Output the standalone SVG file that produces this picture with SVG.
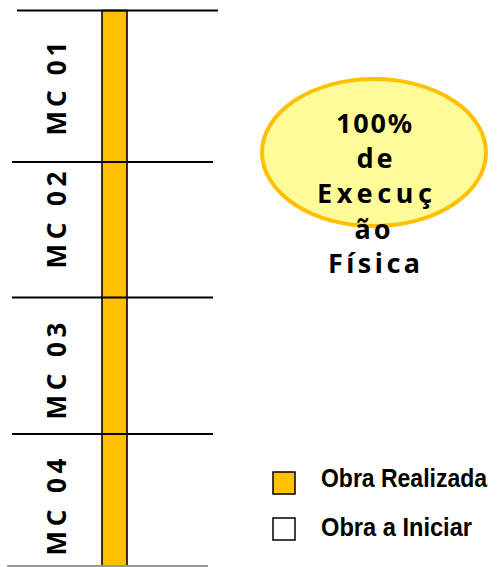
<svg xmlns="http://www.w3.org/2000/svg" width="498" height="567" viewBox="0 0 498 567">
  <style>
    .rule { stroke: #000; stroke-width: 2; fill: none; }
    .mc { font-family: "Noto Sans", "DejaVu Sans", sans-serif; font-weight: 700; font-size: 26px; fill: #000; text-anchor: middle; }
    .big { font-family: "Noto Sans", "DejaVu Sans", sans-serif; font-weight: 700; font-size: 27px; fill: #000; text-anchor: middle; }
    .leg { font-family: "Liberation Sans", Arial, sans-serif; font-weight: 700; font-size: 26px; fill: #000; }
    .box { stroke: #000; stroke-width: 1.5; }
  </style>
  <rect width="498" height="567" fill="#fff"/>
  <g id="bar">
    <rect x="102" y="10.5" width="25" height="560" fill="#FFC000" stroke="#000" stroke-width="1.6"/>
  </g>
  <g id="connectors">
    <line class="rule" x1="17" y1="10.5" x2="218" y2="10.5"/>
    <line class="rule" x1="12" y1="162" x2="213" y2="162"/>
    <line class="rule" x1="12" y1="297.5" x2="213" y2="297.5"/>
    <line class="rule" x1="12" y1="434" x2="213" y2="434"/>
    <line x1="7" y1="566" x2="208" y2="566" stroke="#999" stroke-width="2"/>
  </g>
  <g id="mc01"><text class="mc" transform="translate(66,88.5) rotate(-90)" textLength="94" lengthAdjust="spacing">MC 01</text></g>
  <g id="mc02"><text class="mc" transform="translate(66,220) rotate(-90)" textLength="97" lengthAdjust="spacing">MC 02</text></g>
  <g id="mc03"><text class="mc" transform="translate(66,371) rotate(-90)" textLength="97" lengthAdjust="spacing">MC 03</text></g>
  <g id="mc04"><text class="mc" transform="translate(66,507) rotate(-90)" textLength="97" lengthAdjust="spacing">MC 04</text></g>
  <g id="status">
    <ellipse cx="374" cy="152.5" rx="112" ry="73.5" fill="#FFFB99" stroke="#FFC000" stroke-width="4"/>
    <text class="big" x="374" y="133" textLength="76" lengthAdjust="spacing">100%</text>
    <text class="big" x="374.5" y="168" textLength="36" lengthAdjust="spacing">de</text>
    <text class="big" x="374.5" y="203" textLength="115" lengthAdjust="spacing">Execuç</text>
    <text class="big" x="372.5" y="239" textLength="36" lengthAdjust="spacing">ão</text>
    <text class="big" x="374" y="273" textLength="92" lengthAdjust="spacing">Física</text>
  </g>
  <g id="legend-realizada">
    <rect class="box" x="273" y="472" width="22" height="22" fill="#FFC000"/>
    <text class="leg" x="321" y="487" textLength="166" lengthAdjust="spacingAndGlyphs">Obra Realizada</text>
  </g>
  <g id="legend-iniciar">
    <rect class="box" x="273" y="518" width="22" height="22" fill="#fff"/>
    <text class="leg" x="321" y="536" textLength="151" lengthAdjust="spacingAndGlyphs">Obra a Iniciar</text>
  </g>
</svg>
